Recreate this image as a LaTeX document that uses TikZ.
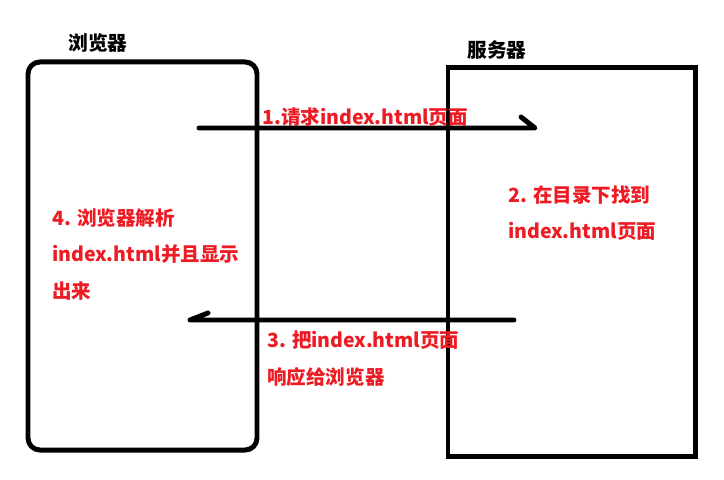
\documentclass[tikz,border=0pt]{standalone}
\usepackage{fontspec}
\setmainfont{Noto Sans CJK SC}
\usetikzlibrary{positioning}
\definecolor{paintred}{RGB}{237,28,36}

\begin{document}
\begin{tikzpicture}[x=0.025cm,y=-0.025cm,
    box/.style={draw,line width=3.5pt,inner sep=0,minimum height=9.7cm},
    title/.style={inner sep=0,font=\bfseries\fontsize{14}{16}\selectfont},
    note/.style={inner sep=0,anchor=north west,align=left,text=paintred,
        font=\bfseries\fontsize{13.9}{26}\selectfont},
    hand/.style={line width=3.5pt,line cap=round,line join=round}]
    \useasboundingbox (0,0) rectangle (724,480);
    % the two sides
    \node[box,rounded corners=0.3cm,minimum width=5.725cm] (browser) at (142.5,256) {};
    \node[box,minimum width=6.175cm] (server) at (571.5,262) {};
    \node[title] (browsername) at (98,43) {浏览器};
    \node[title] (servername) at (497,50) {服务器};
    % request and response
    \coordinate (reqstart) at (199,128);
    \coordinate (reqend) at (535,128);
    \coordinate (resstart) at (514,320);
    \coordinate (resend) at (190,320);
    \draw[hand] (reqstart) -- (reqend) -- ++(-14,-11);
    \draw[hand] (resstart) -- (resend) -- ++(18,-7);
    % steps
    \node[note] (step1) at (262,107) {1.请求index.html页面};
    \node[note] (step2) at (508,185) {2. 在目录下找到\\index.html页面};
    \node[note] (step3) at (267,331) {3. 把index.html页面\\响应给浏览器};
    \node[note] (step4) at (52,208) {4. 浏览器解析\\index.html并且显示\\出来};
\end{tikzpicture}
\end{document}
